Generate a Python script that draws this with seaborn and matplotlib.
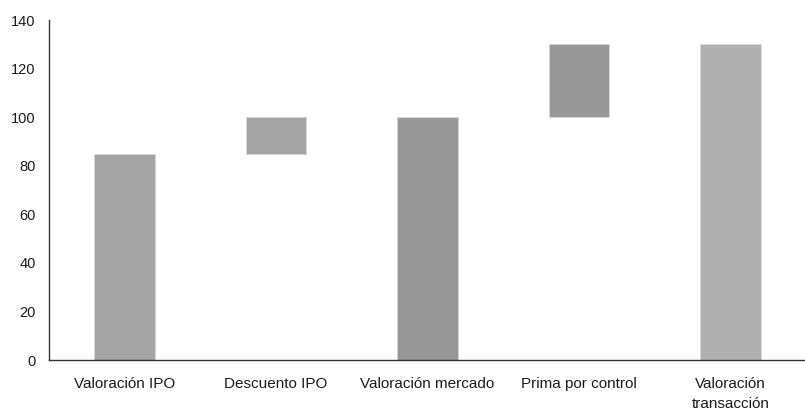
import matplotlib
matplotlib.use("Agg")
import matplotlib.pyplot as plt
import seaborn as sns
import pandas as pd

categories = ["Valoración IPO", "Descuento IPO", "Valoración mercado",
              "Prima por control", "Valoración\ntransacción"]
bar_bottom = [0, 85, 0, 100, 0]
bar_top = [85, 100, 100, 130, 130]
bar_colors = ["#a4a4a4", "#a4a4a4", "#979797", "#979797", "#b0b0b0"]
y_ticks = [0, 20, 40, 60, 80, 100, 120, 140]

sns.set_style("white")
plt.rcParams["font.family"] = ["Liberation Sans", "DejaVu Sans"]

df = pd.DataFrame({
    "categoria": categories,
    "altura": [t - b for t, b in zip(bar_top, bar_bottom)],
})

fig = plt.figure(figsize=(8.05, 4.12), dpi=100)
ax = fig.add_axes([49 / 805, 1 - 360 / 412, (806 - 49) / 805, 340 / 412])

sns.barplot(data=df, x="categoria", y="altura", bottom=bar_bottom,
            width=0.4, color="#a4a4a4", linewidth=0, ax=ax)
for patch, c in zip(ax.patches, bar_colors):
    patch.set_facecolor(c)
    patch.set_edgecolor("#d8d8d8")
    patch.set_linewidth(0.6)

ax.set_ylim(0, 140)
ax.set_xlim(-0.5, len(categories) - 0.5)
ax.set_yticks(y_ticks)
ax.set_xticks(range(len(categories)))
ax.set_xticklabels(categories)
ax.set_xlabel("")
ax.set_ylabel("")

for side in ["top", "right"]:
    ax.spines[side].set_visible(False)
for side in ["left", "bottom"]:
    ax.spines[side].set_color("#333333")
    ax.spines[side].set_linewidth(1.0)

# y ticks point outward; x ticks sit on the boundaries between categories
ax.tick_params(axis="y", which="major", direction="out", length=4.5, width=1,
               color="#333333", labelsize=10.5, labelcolor="#1a1a1a", pad=5)
ax.tick_params(axis="x", which="major", length=0, labelsize=11,
               labelcolor="#1a1a1a", pad=12)
ax.set_xticks([i + 0.5 for i in range(len(categories) - 1)], minor=True)
ax.tick_params(axis="x", which="minor", direction="out", length=5, width=1,
               color="#333333")
for lbl in ax.get_xticklabels():
    lbl.set_linespacing(1.6)

fig.savefig("out.png", dpi=100, facecolor="white")
